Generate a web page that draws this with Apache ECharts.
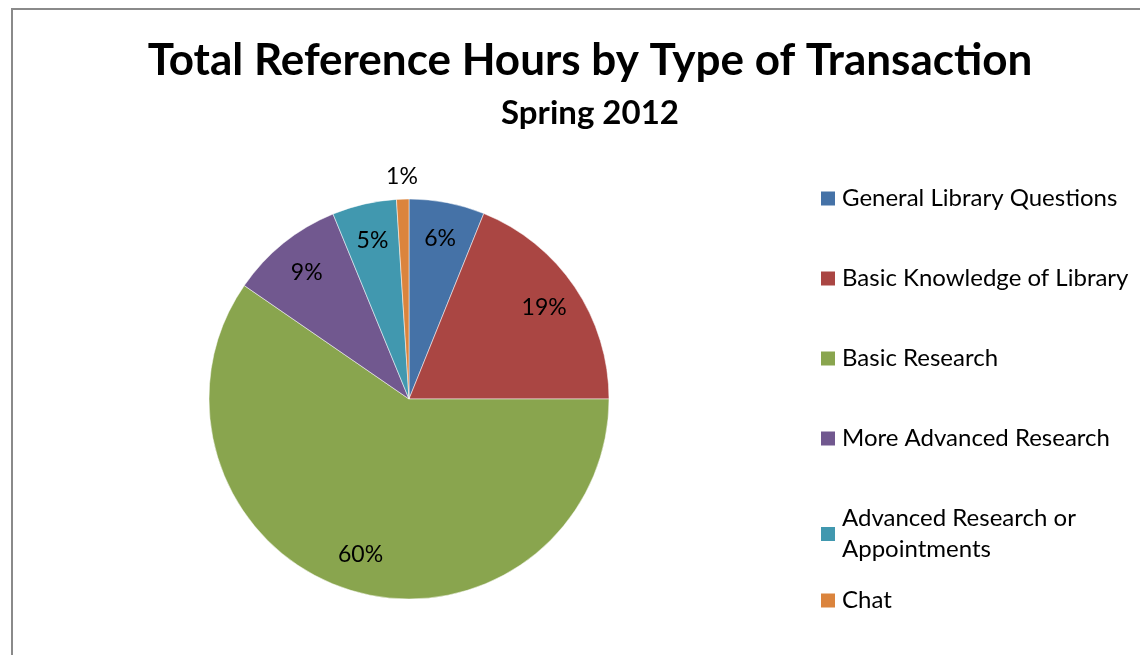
<!DOCTYPE html>
<html>
<head>
<meta charset="utf-8">
<script src="https://cdn.jsdelivr.net/npm/echarts@6/dist/echarts.min.js"></script>
<style>
  html, body { margin: 0; padding: 0; background: #fff; }
  #chart { width: 1140px; height: 655px; }
</style>
</head>
<body>
<div id="chart"></div>
<script>
// data (share of total hours, %)
var categories = ['General Library Questions', 'Basic Knowledge of Library', 'Basic Research',
  'More Advanced Research', 'Advanced Research or Appointments', 'Chat'];
var hours = [6.1, 18.9, 59.6, 9.2, 5.2, 1.0];
var colors = ['#4572A7', '#AA4643', '#89A54E', '#71588F', '#4198AF', '#DB843D'];

var FONT = 'Lato';
var CX = 409, CY = 399, R = 200;

var chart = echarts.init(document.getElementById('chart'));

var sliceData = categories.map(function (name, i) {
  return { name: name, value: hours[i], itemStyle: { color: colors[i] } };
});

// transparent rings, only used to place the percent labels
function labelRing(showFn) {
  return categories.map(function (name, i) {
    return { name: name, value: hours[i], label: { show: showFn(name) } };
  });
}

function pct(p) { return Math.round(p.percent) + '%'; }

var legendText = { fontFamily: FONT, fontSize: 24, color: '#000', lineHeight: 31, padding: [0, 0, 0, 1] };

var labelSeries = {
  type: 'pie',
  center: [CX, CY],
  startAngle: 90, clockwise: true,
  silent: true,
  itemStyle: { color: 'rgba(0,0,0,0)' },
  label: { position: 'inside', fontSize: 23, color: '#000', fontFamily: FONT, formatter: pct },
  labelLine: { show: false },
  emphasis: { disabled: true }
};

chart.setOption({
  animation: false,
  title: {
    text: 'Total Reference Hours by Type of Transaction',
    subtext: 'Spring 2012',
    left: 585, top: 34, textAlign: 'center',
    textStyle: { fontFamily: FONT, fontWeight: 'bold', fontSize: 44, color: '#000' },
    subtextStyle: { fontFamily: FONT, fontWeight: 'bold', fontSize: 33, color: '#000' },
    itemGap: 14
  },
  graphic: [{
    type: 'polyline', silent: true,
    shape: { points: [[12, 700], [12, 9], [1200, 9]] },
    style: { stroke: '#8a8a8a', lineWidth: 2, fill: null }
  }],
  legend: [{
    data: categories.slice(0, 5),
    orient: 'vertical', left: 819, top: 183, padding: 0,
    itemWidth: 16, itemHeight: 16, itemGap: 49,
    icon: 'rect',
    textStyle: legendText,
    formatter: function (n) { return n === 'Advanced Research or Appointments' ? 'Advanced Research or\nAppointments' : n; },
    selectedMode: false
  }, {
    data: ['Chat'],
    orient: 'vertical', left: 819, top: 585, padding: 0,
    itemWidth: 16, itemHeight: 16,
    icon: 'rect',
    textStyle: legendText,
    selectedMode: false
  }],
  series: [{
    type: 'pie',
    center: [CX, CY], radius: [0, R],
    startAngle: 90, clockwise: true,
    data: sliceData,
    label: { show: false },
    labelLine: { show: false },
    itemStyle: { borderColor: '#fff', borderWidth: 0.5 },
    emphasis: { disabled: true }
  }, echarts.util.merge({
    radius: [R * 0.6, R],
    data: labelRing(function (n) { return n !== 'Chat'; })
  }, labelSeries), echarts.util.merge({
    radius: [R, R * 1.2],
    data: labelRing(function (n) { return n === 'Chat'; })
  }, labelSeries)]
});
</script>
</body>
</html>
